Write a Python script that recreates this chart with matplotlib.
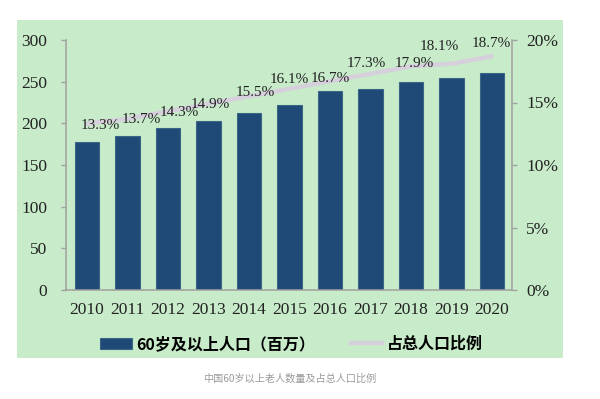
import matplotlib
matplotlib.use("Agg")
import matplotlib.pyplot as plt
from matplotlib.patches import Rectangle, Patch
from matplotlib.lines import Line2D
from matplotlib.ticker import FuncFormatter

years = ["2010", "2011", "2012", "2013", "2014", "2015", "2016", "2017", "2018", "2019", "2020"]
pop_60plus = [178, 185, 194, 203, 212, 222, 239, 241, 250, 254, 261]
share_pct = [13.3, 13.7, 14.3, 14.9, 15.5, 16.1, 16.7, 17.3, 17.9, 18.1, 18.7]
label_offsets_px = [(13, -2), (14, -1), (11, -1), (2, -1), (6, 4), (0, 9),
                    (0, 3), (-4, 10), (3, 3), (-12, 17), (-1, 13)]
bar_label = "60岁及以上人口（百万）"
line_label = "占总人口比例"
caption = "中国60岁以上老人数量及占总人口比例"

BG = "#c8ecca"
BAR = "#1f4a77"
LINE = "#d6d0dc"
SPINE = "#a0a0a0"
SERIF = "Liberation Serif"
CJK = ["Noto Sans CJK SC", "DejaVu Sans"]

fig = plt.figure(figsize=(6.0, 3.99), dpi=100)
fig.patch.set_facecolor("white")
fig.add_artist(Rectangle((17 / 600, 41 / 399), 546 / 600, 338 / 399,
                         transform=fig.transFigure, facecolor=BG, edgecolor="none", zorder=0))

ax = fig.add_axes([66 / 600, 109 / 399, 445.5 / 600, 250 / 399])
ax.set_facecolor("none")
x = list(range(len(years)))
ax.bar(x, pop_60plus, width=0.6, color=BAR, edgecolor="#3d6588", linewidth=0.8, zorder=2)
ax.set_xlim(-0.52, 10.48)
ax.set_ylim(0, 300)
ax.set_yticks([0, 50, 100, 150, 200, 250, 300])
ax.set_xticks(x)
ax.set_xticklabels(years)

ax2 = ax.twinx()
ax2.set_ylim(0, 20)
ax2.set_yticks([0, 5, 10, 15, 20])
ax2.yaxis.set_major_formatter(FuncFormatter(lambda v, p: f"{int(v)}%"))
ax2.plot(x, share_pct, color=LINE, linewidth=3.2, solid_capstyle="round", zorder=3)
for xi, v, (dx, dy) in zip(x, share_pct, label_offsets_px):
    ax2.annotate(f"{v}%", (xi, v), xytext=(dx, dy), textcoords="offset pixels",
                 ha="center", va="center", fontsize=11, family=SERIF, color="#222222", zorder=4)

for a in (ax, ax2):
    a.spines["top"].set_visible(False)
    for s in ("left", "right", "bottom"):
        a.spines[s].set_color(SPINE)
        a.spines[s].set_linewidth(1.1)
ax.spines["right"].set_visible(False)
ax2.spines["left"].set_visible(False)
ax2.spines["bottom"].set_visible(False)

ax.tick_params(axis="y", direction="out", length=3.6, width=1.0, color=SPINE, pad=10,
               labelsize=12.5, labelcolor="#222222")
ax.tick_params(axis="x", length=0, pad=9, labelsize=12.5, labelcolor="#222222")
ax2.tick_params(axis="y", direction="out", length=3.6, width=1.0, color=SPINE, pad=7,
                labelsize=12.5, labelcolor="#222222")
for lab in ax.get_xticklabels() + ax.get_yticklabels() + ax2.get_yticklabels():
    lab.set_family(SERIF)

handles = [Patch(facecolor=BAR, edgecolor="#3d6588", linewidth=0.8),
           Line2D([0], [0], color=LINE, linewidth=3.2)]
fig.legend(handles, [bar_label, line_label], loc="center", bbox_to_anchor=(291.5 / 600, 55 / 399),
           ncol=2, frameon=False, handlelength=2.0, handletextpad=0.3, columnspacing=2.2,
           prop={"family": CJK, "weight": "bold", "size": 11.5})

fig.text(290 / 600, 20 / 399, caption, ha="center", va="center", fontsize=7.3,
         family=CJK, color="#9a9a9a")

fig.savefig("out.png", dpi=100)
